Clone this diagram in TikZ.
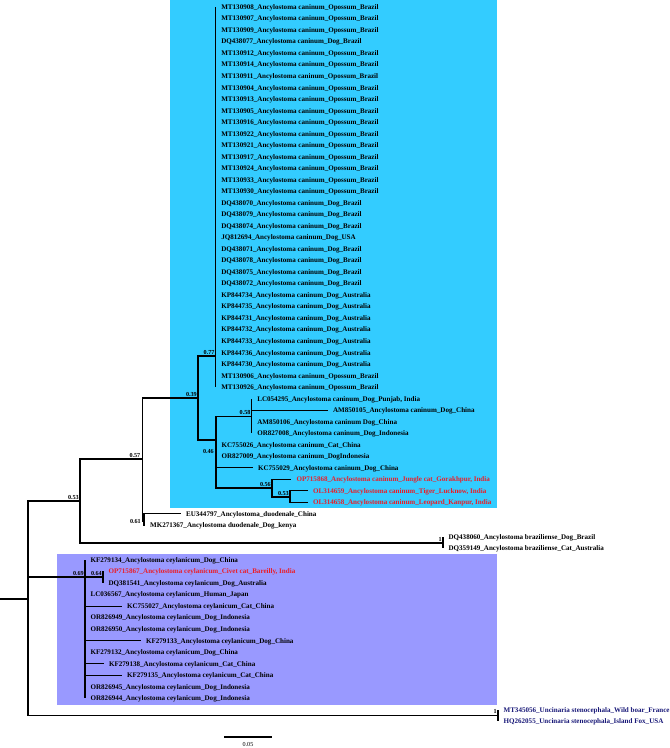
\documentclass[tikz,border=0pt]{standalone}
\usepackage{fontspec}
\setmainfont{Liberation Serif}
\definecolor{cyanbox}{RGB}{51,204,255}
\definecolor{purplebox}{RGB}{153,153,255}
\definecolor{redlab}{RGB}{235,30,40}
\definecolor{bluelab}{RGB}{25,25,120}
\pgfmathdeclarefunction{rowy}{1}{\pgfmathparse{7+(#1-1)*11.52}}
\newcommand\leafnode[4]{\node[leaf,#4] (L#1) at (#2,{rowy(#1)}) {#3};}
\begin{document}
\begin{tikzpicture}[x=0.75pt,y=-0.75pt,
  br/.style={line width=0.8pt,black},
  leaf/.style={anchor=west,inner xsep=4pt,inner ysep=0pt,text height=3.6pt,text depth=0pt,font=\fontsize{5.3}{6}\selectfont\bfseries},
  boot/.style={inner sep=0pt,font=\fontsize{4.6}{5}\selectfont\bfseries},
  redl/.style={text=redlab},
  bluel/.style={text=bluelab}]
\useasboundingbox (0,0) rectangle (669,748);
\fill[cyanbox] (170,0.5) rectangle (496.5,508);
\fill[purplebox] (57,554) rectangle (496.5,705);

% internal nodes
\coordinate (r0) at (0,599);
\coordinate (r) at (28,599);
\coordinate (n53) at (80,501);
\coordinate (n57) at (142.5,459);
\coordinate (n39) at (198,398);
\coordinate (n77) at (215.7,356);
\coordinate (n46) at (216,440);
\coordinate (n58) at (251.7,416.7);
\coordinate (n56) at (272,488);
\coordinate (n53b) at (290,497);
\coordinate (n61) at (144,521);
\coordinate (nbr) at (443,543);
\coordinate (n69) at (85,577);
\coordinate (n64) at (103,577);
\coordinate (nun) at (498,715.5);

% leaves
\leafnode{1}{215.7}{MT130908\_Ancylostoma caninum\_Opossum\_Brazil}{}
\leafnode{2}{215.7}{MT130907\_Ancylostoma caninum\_Opossum\_Brazil}{}
\leafnode{3}{215.7}{MT130909\_Ancylostoma caninum\_Opossum\_Brazil}{}
\leafnode{4}{215.7}{DQ438077\_Ancylostoma caninum\_Dog\_Brazil}{}
\leafnode{5}{215.7}{MT130912\_Ancylostoma caninum\_Opossum\_Brazil}{}
\leafnode{6}{215.7}{MT130914\_Ancylostoma caninum\_Opossum\_Brazil}{}
\leafnode{7}{215.7}{MT130911\_Ancylostoma caninum\_Opossum\_Brazil}{}
\leafnode{8}{215.7}{MT130904\_Ancylostoma caninum\_Opossum\_Brazil}{}
\leafnode{9}{215.7}{MT130913\_Ancylostoma caninum\_Opossum\_Brazil}{}
\leafnode{10}{215.7}{MT130905\_Ancylostoma caninum\_Opossum\_Brazil}{}
\leafnode{11}{215.7}{MT130916\_Ancylostoma caninum\_Opossum\_Brazil}{}
\leafnode{12}{215.7}{MT130922\_Ancylostoma caninum\_Opossum\_Brazil}{}
\leafnode{13}{215.7}{MT130921\_Ancylostoma caninum\_Opossum\_Brazil}{}
\leafnode{14}{215.7}{MT130917\_Ancylostoma caninum\_Opossum\_Brazil}{}
\leafnode{15}{215.7}{MT130924\_Ancylostoma caninum\_Opossum\_Brazil}{}
\leafnode{16}{215.7}{MT130933\_Ancylostoma caninum\_Opossum\_Brazil}{}
\leafnode{17}{215.7}{MT130930\_Ancylostoma caninum\_Opossum\_Brazil}{}
\leafnode{18}{215.7}{DQ438070\_Ancylostoma caninum\_Dog\_Brazil}{}
\leafnode{19}{215.7}{DQ438079\_Ancylostoma caninum\_Dog\_Brazil}{}
\leafnode{20}{215.7}{DQ438074\_Ancylostoma caninum\_Dog\_Brazil}{}
\leafnode{21}{215.7}{JQ812694\_Ancylostoma caninum\_Dog\_USA}{}
\leafnode{22}{215.7}{DQ438071\_Ancylostoma caninum\_Dog\_Brazil}{}
\leafnode{23}{215.7}{DQ438078\_Ancylostoma caninum\_Dog\_Brazil}{}
\leafnode{24}{215.7}{DQ438075\_Ancylostoma caninum\_Dog\_Brazil}{}
\leafnode{25}{215.7}{DQ438072\_Ancylostoma caninum\_Dog\_Brazil}{}
\leafnode{26}{215.7}{KP844734\_Ancylostoma caninum\_Dog\_Australia}{}
\leafnode{27}{215.7}{KP844735\_Ancylostoma caninum\_Dog\_Australia}{}
\leafnode{28}{215.7}{KP844731\_Ancylostoma caninum\_Dog\_Australia}{}
\leafnode{29}{215.7}{KP844732\_Ancylostoma caninum\_Dog\_Australia}{}
\leafnode{30}{215.7}{KP844733\_Ancylostoma caninum\_Dog\_Australia}{}
\leafnode{31}{215.7}{KP844736\_Ancylostoma caninum\_Dog\_Australia}{}
\leafnode{32}{215.7}{KP844730\_Ancylostoma caninum\_Dog\_Australia}{}
\leafnode{33}{215.7}{MT130906\_Ancylostoma caninum\_Opossum\_Brazil}{}
\leafnode{34}{215.7}{MT130926\_Ancylostoma caninum\_Opossum\_Brazil}{}
\leafnode{35}{251.7}{LC054295\_Ancylostoma caninum\_Dog\_Punjab, India}{}
\leafnode{36}{327.5}{AM850105\_Ancylostoma caninum\_Dog\_China}{}
\leafnode{37}{251.7}{AM850106\_Ancylostoma caninum Dog\_China}{}
\leafnode{38}{251.7}{OR827008\_Ancylostoma caninum\_Dog\_Indonesia}{}
\leafnode{39}{216}{KC755026\_Ancylostoma caninum\_Cat\_China}{}
\leafnode{40}{216}{OR827009\_Ancylostoma caninum\_DogIndonesia}{}
\leafnode{41}{252.5}{KC755029\_Ancylostoma caninum\_Dog\_China}{}
\leafnode{42}{291}{OP715868\_Ancylostoma caninum\_Jungle cat\_Gorakhpur, India}{redl}
\leafnode{43}{307.5}{OL314659\_Ancylostoma caninum\_Tiger\_Lucknow, India}{redl}
\leafnode{44}{307.5}{OL314658\_Ancylostoma caninum\_Leopard\_Kanpur, India}{redl}
\leafnode{45}{180.5}{EU344797\_Ancylostoma\_duodenale\_China}{}
\leafnode{46}{144.5}{MK271367\_Ancylostoma duodenale\_Dog\_kenya}{}
\leafnode{47}{443}{DQ438060\_Ancylostoma braziliense\_Dog\_Brazil}{}
\leafnode{48}{443}{DQ359149\_Ancylostoma braziliense\_Cat\_Australia}{}
\leafnode{49}{85}{KF279134\_Ancylostoma ceylanicum\_Dog\_China}{}
\leafnode{50}{103}{OP715867\_Ancylostoma ceylanicum\_Civet cat\_Bareilly, India}{redl}
\leafnode{51}{103}{DQ381541\_Ancylostoma ceylanicum\_Dog\_Australia}{}
\leafnode{52}{85}{LC036567\_Ancylostoma ceylanicum\_Human\_Japan}{}
\leafnode{53}{121.5}{KC755027\_Ancylostoma ceylanicum\_Cat\_China}{}
\leafnode{54}{85}{OR826949\_Ancylostoma ceylanicum\_Dog\_Indonesia}{}
\leafnode{55}{85}{OR826950\_Ancylostoma ceylanicum\_Dog\_Indonesia}{}
\leafnode{56}{140.5}{KF279133\_Ancylostoma ceylanicum\_Dog\_China}{}
\leafnode{57}{85}{KF279132\_Ancylostoma ceylanicum\_Dog\_China}{}
\leafnode{58}{103.5}{KF279138\_Ancylostoma ceylanicum\_Cat\_China}{}
\leafnode{59}{121.5}{KF279135\_Ancylostoma ceylanicum\_Cat\_China}{}
\leafnode{60}{85}{OR826945\_Ancylostoma ceylanicum\_Dog\_Indonesia}{}
\leafnode{61}{85}{OR826944\_Ancylostoma ceylanicum\_Dog\_Indonesia}{}
\leafnode{62}{498}{MT345056\_Uncinaria stenocephala\_Wild boar\_France}{bluel}
\leafnode{63}{498}{HQ262055\_Uncinaria stenocephala\_Island Fox\_USA}{bluel}

% branches
\draw[br] (r0) -- (r);
\draw[br] (r) |- (n53);
\draw[br] (r) |- (n69);
\draw[br] (r) |- (nun);
\draw[br] (n53) |- (n57);
\draw[br] (n53) |- (nbr);
\draw[br] (n57) |- (n39);
\draw[br] (n57) |- (n61);
\draw[br] (n39) |- (n77);
\draw[br] (n39) |- (n46);
\foreach \i in {1,...,34} \draw[br] (n77) |- (L\i.west);
\draw[br] (n46) |- (n58);
\draw[br] (n46) |- (n56);
\foreach \i in {39,40,41} \draw[br] (n46) |- (L\i.west);
\foreach \i in {35,36,37,38} \draw[br] (n58) |- (L\i.west);
\draw[br] (n56) |- (L42.west);
\draw[br] (n56) |- (n53b);
\foreach \i in {43,44} \draw[br] (n53b) |- (L\i.west);
\foreach \i in {45,46} \draw[br] (n61) |- (L\i.west);
\foreach \i in {47,48} \draw[br] (nbr) |- (L\i.west);
\draw[br] (n69) |- (n64);
\foreach \i in {49,52,53,54,55,56,57,58,59,60,61} \draw[br] (n69) |- (L\i.west);
\foreach \i in {50,51} \draw[br] (n64) |- (L\i.west);
\foreach \i in {62,63} \draw[br] (nun) |- (L\i.west);

% support values
\node[boot,anchor=south east] (b53) at ([shift={(-1,-1.5)}]n53) {0.53};
\node[boot,anchor=south east] (b57) at ([shift={(-2,-1.5)}]n57) {0.57};
\node[boot,anchor=south east] (b39) at ([shift={(-1,-1.5)}]n39) {0.39};
\node[boot,anchor=south east] (b77) at ([shift={(-1,-1.5)}]n77) {0.77};
\node[boot,anchor=east] (b46) at (214,452) {0.46};
\node[boot,anchor=south east] (b58) at ([shift={(-1,-1.5)}]n58) {0.58};
\node[boot,anchor=south east] (b56) at ([shift={(-1,-1.5)}]n56) {0.56};
\node[boot,anchor=south east] (b53b) at ([shift={(-1,-1.5)}]n53b) {0.53};
\node[boot,anchor=east] (b61) at (141,521) {0.61};
\node[boot,anchor=south east] (bbr) at ([shift={(-1,-1.5)}]nbr) {1};
\node[boot,anchor=south east] (b69) at ([shift={(-1,-1.5)}]n69) {0.69};
\node[boot,anchor=south east] (b64) at ([shift={(-1,-1.5)}]n64) {0.64};
\node[boot,anchor=south east] (bun) at ([shift={(-1,-1.5)}]nun) {1};

% scale bar
\coordinate (sb1) at (224,737);
\coordinate (sb2) at (272,737);
\draw[br] (sb1) -- (sb2);
\node[boot,font=\fontsize{4.6}{5}\selectfont] (sbl) at (248,744) {0.05};
\end{tikzpicture}
\end{document}
